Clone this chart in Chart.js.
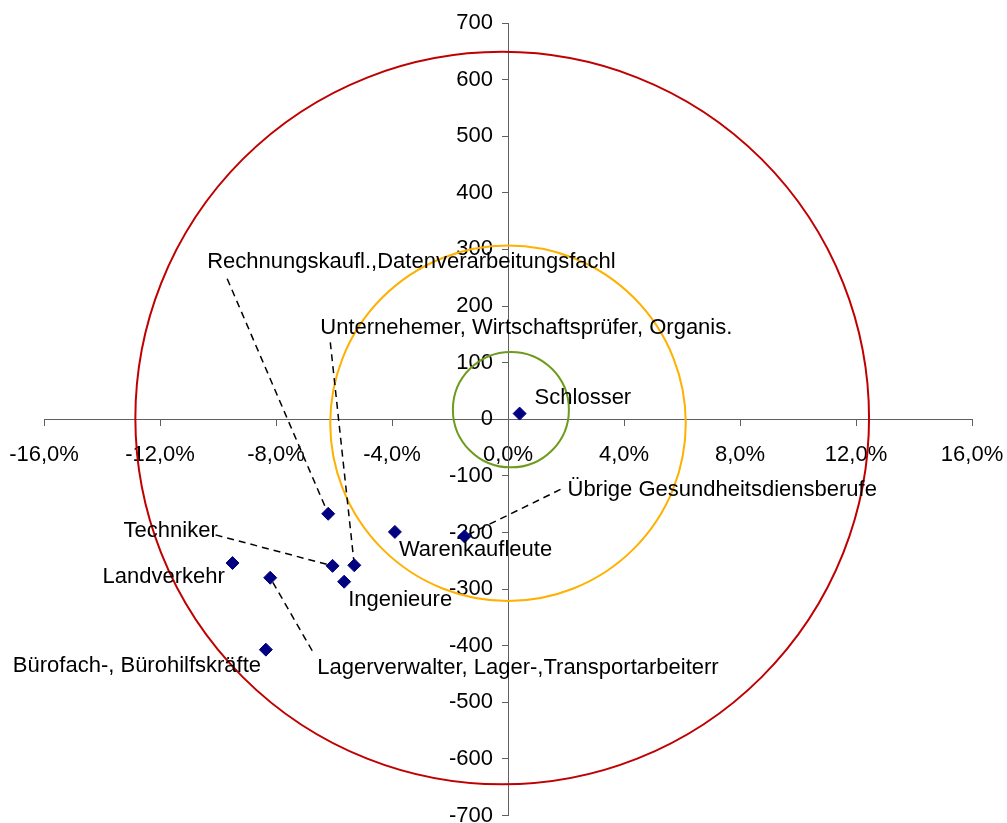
<!DOCTYPE html>
<html>
<head>
<meta charset="utf-8">
<script src="https://cdn.jsdelivr.net/npm/chart.js@4.4.0/dist/chart.umd.min.js"></script>
<style>
  html, body { margin: 0; padding: 0; background: #fff; }
  #chart { display: block; }
</style>
</head>
<body>
<canvas id="chart" width="1007" height="823"></canvas>
<script>
// Berufsgruppen: Veränderung in % (x) und absolut (y)
const occupations = [
    'Schlosser',
    'Übrige Gesundheitsdiensberufe',
    'Warenkaufleute',
    'Rechnungskaufl.,Datenverarbeitungsfachl',
    'Unternehemer, Wirtschaftsprüfer, Organis.',
    'Techniker',
    'Ingenieure',
    'Landverkehr',
    'Lagerverwalter, Lager-,Transportarbeiterr',
    'Bürofach-, Bürohilfskräfte'
];
const changePct = [0.4, -1.5, -3.9, -6.2, -5.3, -6.05, -5.65, -9.5, -8.2, -8.35];
const changeAbs = [10, -207, -199, -167, -258, -259, -287, -254, -280, -407];

const xTickValues = [-16, -12, -8, -4, 0, 4, 8, 12, 16];
const yTickValues = [-700, -600, -500, -400, -300, -200, -100, 0, 100, 200, 300, 400, 500, 600, 700];

// Kreise (Mittelpunkt und Radien in Achseneinheiten)
const circleCenterX = [-0.2, 0, 0.1];
const circleCenterY = [2, -7, 17];
const circleRadiusX = [12.65, 6.13, 2.0];
const circleRadiusY = [647, 314, 102];

// Styles
const circleColors = ['#C00000', '#FFB000', '#6E9B1E'];
const pointColor = '#000080';
const axisColor = '#606060';
const fontFamily = '"Liberation Sans", Arial, sans-serif';

// Beschriftungen: Versatz in Pixel zum Punkt, optional Startpunkt der Führungslinie
const labelLayout = [
    { dx: 15, dy: -16 },
    { dx: 103, dy: -46, lx: 96, ly: -47 },
    { dx: 4, dy: 18 },
    { dx: -121, dy: -252, lx: -101, ly: -235 },
    { dx: -34, dy: -237, lx: -24, ly: -223 },
    { dx: -209, dy: -35, lx: -117, ly: -31 },
    { dx: 4, dy: 18 },
    { dx: -130, dy: 14 },
    { dx: 47, dy: 90, lx: 42, ly: 73 },
    { dx: -253, dy: 16 }
];

const points = changePct.map(function(v, i) {
    return { x: v, y: changeAbs[i] };
});

const circlesPlugin = {
    id: 'circles',
    beforeDatasetsDraw: function(chart) {
        const ctx = chart.ctx;
        const x = chart.scales.x, y = chart.scales.y;
        ctx.save();
        circleCenterX.forEach(function(cx, i) {
            const px = x.getPixelForValue(cx);
            const py = y.getPixelForValue(circleCenterY[i]);
            const rx = Math.abs(x.getPixelForValue(cx + circleRadiusX[i]) - px);
            const ry = Math.abs(y.getPixelForValue(circleCenterY[i] + circleRadiusY[i]) - py);
            ctx.beginPath();
            ctx.ellipse(px, py, rx, ry, 0, 0, Math.PI * 2);
            ctx.strokeStyle = circleColors[i];
            ctx.lineWidth = 2;
            ctx.stroke();
        });
        ctx.restore();
    }
};

const labelsPlugin = {
    id: 'pointLabels',
    beforeDatasetsDraw: function(chart) {
        // Führungslinien unter den Punkten
        const ctx = chart.ctx;
        const meta = chart.getDatasetMeta(0);
        ctx.save();
        ctx.strokeStyle = '#000';
        ctx.lineWidth = 1.5;
        ctx.setLineDash([7, 5]);
        meta.data.forEach(function(el, i) {
            const l = labelLayout[i];
            if (l.lx === undefined) return;
            ctx.beginPath();
            ctx.moveTo(el.x + l.lx, el.y + l.ly);
            ctx.lineTo(el.x, el.y);
            ctx.stroke();
        });
        ctx.restore();
    },
    afterDatasetsDraw: function(chart) {
        const ctx = chart.ctx;
        const meta = chart.getDatasetMeta(0);
        ctx.save();
        ctx.fillStyle = '#000';
        ctx.font = '22px ' + fontFamily;
        ctx.textAlign = 'left';
        ctx.textBaseline = 'middle';
        meta.data.forEach(function(el, i) {
            const l = labelLayout[i];
            ctx.fillText(occupations[i], el.x + l.dx, el.y + l.dy);
        });
        ctx.restore();
    }
};

function noPadding(scale) {
    scale.paddingLeft = 0;
    scale.paddingRight = 0;
    scale.paddingTop = 0;
    scale.paddingBottom = 0;
}

new Chart(document.getElementById('chart'), {
    type: 'scatter',
    data: {
        datasets: [{
            data: points,
            pointStyle: 'rectRot',
            pointRadius: 6.5,
            pointBorderWidth: 1,
            backgroundColor: pointColor,
            borderColor: pointColor
        }]
    },
    options: {
        responsive: false,
        animation: false,
        layout: { padding: { left: 44, right: 35, top: 23, bottom: 6 } },
        plugins: {
            legend: { display: false },
            tooltip: { enabled: false }
        },
        scales: {
            x: {
                type: 'linear',
                position: 'center',
                min: -16,
                max: 16,
                afterBuildTicks: function(s) { s.ticks = xTickValues.map(function(v) { return { value: v }; }); },
                afterFit: noPadding,
                grid: { drawOnChartArea: false, drawTicks: true, tickLength: 6, color: axisColor },
                border: { color: axisColor, width: 1 },
                ticks: {
                    autoSkip: false,
                    maxRotation: 0,
                    padding: 16,
                    color: '#000',
                    font: { family: fontFamily, size: 22 },
                    callback: function(v) { return v.toFixed(1).replace('.', ',') + '%'; }
                }
            },
            y: {
                type: 'linear',
                position: 'center',
                min: -700,
                max: 700,
                afterBuildTicks: function(s) { s.ticks = yTickValues.map(function(v) { return { value: v }; }); },
                afterFit: noPadding,
                grid: { drawOnChartArea: false, drawTicks: true, tickLength: 6, color: axisColor },
                border: { color: axisColor, width: 1 },
                ticks: {
                    autoSkip: false,
                    padding: 9,
                    color: '#000',
                    font: { family: fontFamily, size: 22 }
                }
            }
        }
    },
    plugins: [circlesPlugin, labelsPlugin]
});
</script>
</body>
</html>
